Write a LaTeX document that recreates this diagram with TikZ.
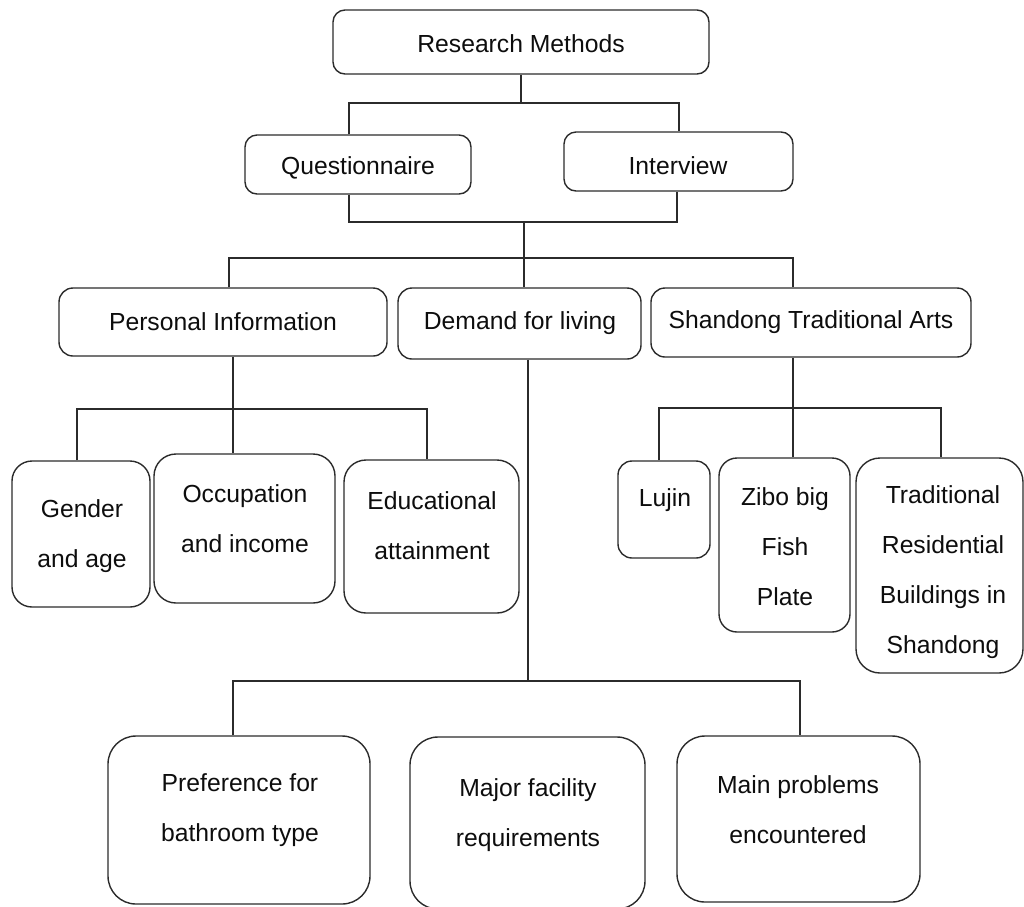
\documentclass[tikz,border=0pt]{standalone}
\usepackage{fontspec}
\setmainfont{Liberation Sans}
\usetikzlibrary{calc}
\definecolor{ln}{HTML}{2B2B2B}
\definecolor{tx}{HTML}{0D0D0D}
\tikzset{
  box/.style={draw=ln, line width=1.4pt, rounded corners=#1, inner sep=0pt, fill=none},
  box/.default=12pt,
  txt/.style={text=tx, align=center, inner sep=0pt, font=\fontsize{24.7}{50}\selectfont},
  conn/.style={draw=ln, line width=1.4pt},
}
\begin{document}
\begin{tikzpicture}[x=1pt,y=-1pt]
\useasboundingbox (0,0) rectangle (1024,906);
% boxes
\node[box, minimum width=376pt, minimum height=64pt] (rm) at (521,42) {};
\node[box, minimum width=226pt, minimum height=59pt] (q) at (358,164.5) {};
\node[box, minimum width=229pt, minimum height=59pt] (iv) at (678.5,161.5) {};
\node[box=14pt, minimum width=328pt, minimum height=68pt] (pi) at (223,322) {};
\node[box=14pt, minimum width=243pt, minimum height=71pt] (dl) at (519.5,323.5) {};
\node[box=14pt, minimum width=320pt, minimum height=69pt] (sa) at (811,322.5) {};
\node[box=20pt, minimum width=138pt, minimum height=146pt] (ga) at (81,534) {};
\node[box=22pt, minimum width=181pt, minimum height=149pt] (oi) at (244.5,528.5) {};
\node[box=22pt, minimum width=175pt, minimum height=153pt] (ea) at (431.5,536.5) {};
\node[box=14pt, minimum width=92pt, minimum height=97pt] (lu) at (664,509.5) {};
\node[box=18pt, minimum width=131pt, minimum height=174pt] (zb) at (784.5,545) {};
\node[box=24pt, minimum width=167pt, minimum height=215pt] (tr) at (939.5,565.5) {};
\node[box=28pt, minimum width=262pt, minimum height=168pt] (pb) at (239,820) {};
\node[box=28pt, minimum width=235pt, minimum height=172pt] (mf) at (527.5,823) {};
\node[box=28pt, minimum width=243pt, minimum height=166pt] (mp) at (798.5,819) {};
% texts
\node[txt] (rm-t) at (521,44) {Research Methods};
\node[txt] (q-t) at (358,168) {Questionnaire};
\node[txt] (iv-t) at (678,166) {Interview};
\node[txt] (pi-t) at (223,322) {Personal Information};
\node[txt] (dl-t) at (520,323) {Demand for living};
\node[txt] (sa-t) at (811,322) {Shandong Traditional Arts};
\node[txt] (ga-t) at (82,536) {Gender\\and age};
\node[txt] (oi-t) at (245,519) {Occupation\\and income};
\node[txt] (ea-t) at (432,526) {Educational\\attainment};
\node[txt] (lu-t) at (665,500) {Lujin};
\node[txt] (zb-t) at (785,547) {Zibo big\\Fish\\Plate};
\node[txt] (tr-t) at (943,572.5) {Traditional\\Residential\\Buildings in\\Shandong};
\node[txt] (pb-t) at (240,810) {Preference for\\bathroom type};
\node[txt] (mf-t) at (528,815) {Major facility\\requirements};
\node[txt] (mp-t) at (798,809.5) {Main problems\\encountered};
% junctions
\coordinate (j1) at (521,103);
\coordinate (j2) at (524,222);
\coordinate (j3) at (524,258);
\coordinate (j4) at (233,409);
\coordinate (j5) at (528,681);
\coordinate (j6) at (793,408);
% connectors
\draw[conn] (rm.south) -- (j1);
\draw[conn] ([xshift=-9pt]q.north) |- (j1) -| ([xshift=0.5pt]iv.north);
\draw[conn] ([xshift=-9pt]q.south) |- (j2) -| ([xshift=-1.5pt]iv.south);
\draw[conn] (j2) -- (j3);
\draw[conn] ([xshift=6pt]pi.north) |- (j3) -| ([xshift=-18pt]sa.north);
\draw[conn] (j3) -- (j3 |- dl.north);
\draw[conn] ([xshift=10pt]pi.south) -- ([xshift=10pt]pi.south |- oi.north);
\draw[conn] ([xshift=-4pt]ga.north) |- (j4) -| ([xshift=-4.5pt]ea.north);
\draw[conn] ([xshift=8.5pt]dl.south) -- (j5);
\draw[conn] ([xshift=-6pt]pb.north) |- (j5) -| ([xshift=1.5pt]mp.north);
\draw[conn] ([xshift=-18pt]sa.south) -- ([xshift=8.5pt]zb.north);
\draw[conn] ([xshift=-5pt]lu.north) |- (j6) -| ([xshift=1.5pt]tr.north);
\end{tikzpicture}
\end{document}
